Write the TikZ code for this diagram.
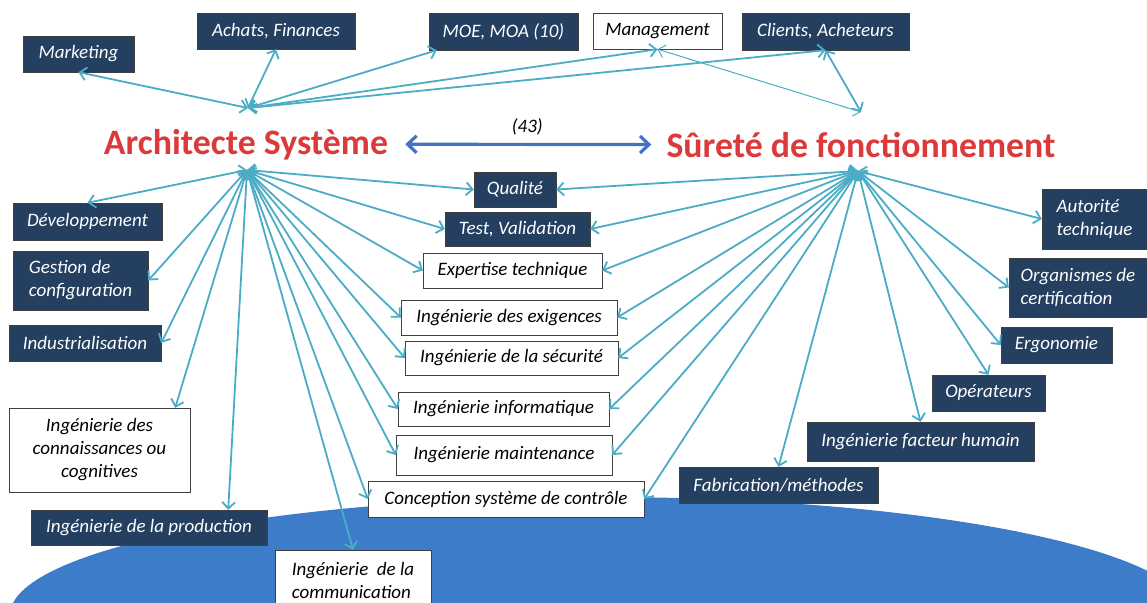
\documentclass[tikz,border=0pt]{standalone}
\usepackage{fontspec}
\setmainfont{Carlito}
\usetikzlibrary{positioning,arrows.meta,calc}
\definecolor{boxblue}{HTML}{243F60}
\definecolor{linkcyan}{HTML}{4BACC6}
\definecolor{titlered}{HTML}{DC3A3A}
\definecolor{mainblue}{HTML}{4472C4}
\definecolor{groundblue}{HTML}{3D7CC9}

\begin{document}
\begin{tikzpicture}[
x=1pt, y=-1pt,
font=\fontsize{19}{23}\selectfont\itshape,
darkbox/.style={draw=black!75, fill=boxblue, text=white, inner sep=3pt, align=center},
lightbox/.style={draw=black!75, fill=white, text=black, inner sep=3pt, align=center},
title/.style={font=\fontsize{35.8}{40}\selectfont\bfseries, text=titlered, inner sep=0pt, anchor=base},
link/.style={{Straight Barb[length=6.5pt,width=13pt]}-{Straight Barb[length=6.5pt,width=13pt]}, draw=linkcyan, line width=1.8pt},
thinlink/.style={link, line width=1pt},
bigarrow/.style={{Straight Barb[length=9pt,width=17pt]}-{Straight Barb[length=9pt,width=17pt]}, draw=mainblue, line width=3.2pt}
]
\useasboundingbox (0,0) rectangle (1147,602);
\clip (0,0) rectangle (1147,602);
\fill[groundblue] (600,615) ellipse [x radius=590, y radius=118];

\node[title] (as) at (246,154) {Architecte Système};
\node[title] (sdf) at (861,157) {Sûreté de fonctionnement};

\node[darkbox, minimum width=111, minimum height=36] (mkt) at (78.5,54) {Marketing};
\node[darkbox, minimum width=158, minimum height=36] (ach) at (276,31) {Achats, Finances};
\node[darkbox, minimum width=149, minimum height=37] (moe) at (503.5,31.5) {MOE, MOA (10)};
\node[lightbox, minimum width=129, minimum height=36] (mgt) at (657.5,31) {Management};
\node[darkbox, minimum width=167, minimum height=37] (cli) at (825.5,31.5) {Clients, Acheteurs};

\node[darkbox, minimum width=149, minimum height=37] (dev) at (87.5,221.5) {Développement};
\node[darkbox, minimum width=135, minimum height=59, align=left] (gest) at (80.5,280.5) {Gestion de\\configuration};
\node[darkbox, minimum width=152, minimum height=36] (indu) at (85,343) {Industrialisation};
\node[lightbox, minimum width=181, minimum height=84] (conn) at (99.5,450) {Ingénierie des\\connaissances ou\\cognitives};
\node[darkbox, minimum width=236, minimum height=35] (prod) at (149,527.5) {Ingénierie de la production};
\node[lightbox, minimum width=156, minimum height=60, align=left] (comm) at (353,580) {Ingénierie~~de la\\communication};

\node[darkbox, minimum width=82, minimum height=35] (qual) at (515,189.5) {Qualité};
\node[darkbox, minimum width=145, minimum height=34] (test) at (517.5,229) {Test, Validation};
\node[lightbox, minimum width=179, minimum height=35] (expe) at (512.5,270.5) {Expertise technique};
\node[lightbox, minimum width=216, minimum height=35] (exig) at (509,317.5) {Ingénierie des exigences};
\node[lightbox, minimum width=213, minimum height=34] (secu) at (511.5,358) {Ingénierie de la sécurité};
\node[lightbox, minimum width=211, minimum height=34] (info) at (503.5,409) {Ingénierie informatique};
\node[lightbox, minimum width=216, minimum height=40] (maint) at (504,455) {Ingénierie maintenance};
\node[lightbox, minimum width=276, minimum height=36] (ctrl) at (506,499) {Conception système de contrôle};

\node[darkbox, minimum width=199, minimum height=36] (fab) at (778.5,485) {Fabrication/méthodes};
\node[darkbox, minimum width=227, minimum height=39] (hum) at (920.5,441.5) {Ingénierie facteur humain};
\node[darkbox, minimum width=113, minimum height=36] (ope) at (988.5,393) {Opérateurs};
\node[darkbox, minimum width=111, minimum height=36] (ergo) at (1056.5,345) {Ergonomie};
\node[darkbox, minimum width=138, minimum height=59, align=left] (org) at (1078,287.5) {Organismes de\\certification};
\node[darkbox, minimum width=105, minimum height=60, align=left] (aut) at (1094.5,219) {Autorité\\technique};

\coordinate (astop) at (248,108);
\coordinate (asbot) at (247,170);
\coordinate (sdftop) at (861,112);
\coordinate (sdfbot) at (858,171);

\draw[bigarrow, shorten <=17pt, shorten >=15pt] (as.east) -- node[above=4pt, text=black] {(43)} (sdf.west);

\foreach \t in {mkt.south, ach.south, mgt.south, cli.south}
  \draw[link] (astop) -- (\t);
\draw[link] (astop) -- ($(moe.south west)+(8,0)$);
\draw[link] (cli.south) -- (sdftop);
\draw[thinlink] (mgt.south) -- (sdftop);

\foreach \t in {dev.north, gest.east, indu.east, comm.north, ctrl.west, maint.west, info.west, secu.west, exig.west, expe.west, test.west, qual.west}
  \draw[link] (asbot) -- (\t);
\draw[link] (asbot) -- ($(conn.north east)+(-15,0)$);
\draw[link] (asbot) -- ($(prod.north east)+(-39,0)$);

\foreach \t in {qual.east, test.east, expe.east, exig.east, secu.east, info.east, maint.east, ctrl.east, fab.north, hum.north, ope.north, ergo.west, org.west, aut.west}
  \draw[link] (sdfbot) -- (\t);
\end{tikzpicture}
\end{document}
